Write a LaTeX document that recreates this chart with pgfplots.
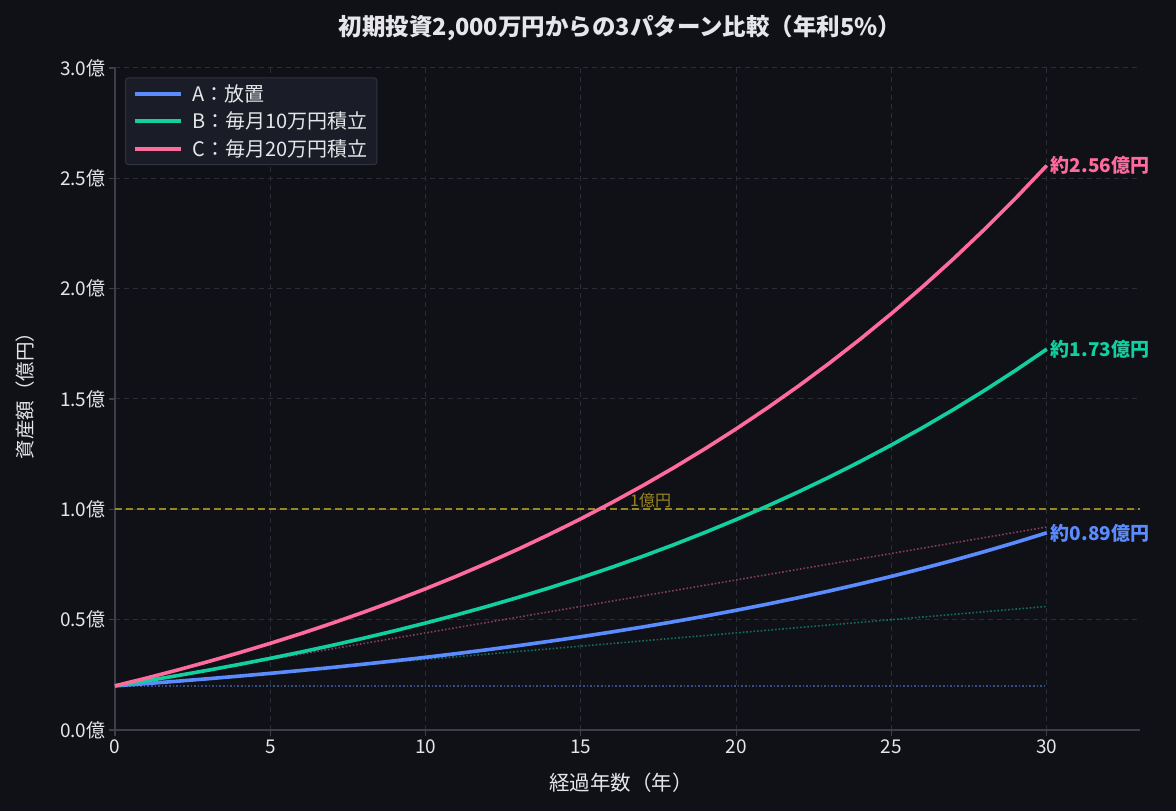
\documentclass[border=0pt]{standalone}
\usepackage{fontspec}
\setmainfont{Noto Sans CJK JP}
\usepackage{pgfplots}
\pgfplotsset{compat=1.18}
\definecolor{bg}{HTML}{0F1117}
\definecolor{txt}{HTML}{E6E6EA}
\definecolor{spine}{HTML}{3C3F48}
\definecolor{gridc}{HTML}{2A2D35}
\definecolor{legbg}{HTML}{1A1D27}
\definecolor{legbd}{HTML}{30333E}
\definecolor{cA}{HTML}{5B8CFF}
\definecolor{cB}{HTML}{12CFA0}
\definecolor{cC}{HTML}{FF6B9D}
\definecolor{goldc}{HTML}{9A8620}
\begin{document}
\begin{tikzpicture}[x=1pt,y=1pt]
\fill[bg] (0,0) rectangle (1176,811);
\begin{axis}[
  at={(115pt,81pt)}, anchor=south west,
  width=1025pt, height=662pt, scale only axis,
  xmin=0, xmax=33, ymin=0, ymax=3,
  axis x line*=bottom, axis y line*=left,
  axis line style={draw=spine, line width=1.2pt},
  tick align=outside, major tick length=6pt,
  tick style={draw=spine, line width=1.2pt},
  xtick={0,5,10,15,20,25,30},
  ytick={0,0.5,1,1.5,2,2.5,3},
  yticklabels={0.0億,0.5億,1.0億,1.5億,2.0億,2.5億,3.0億},
  ticklabel style={font=\fontsize{19}{22}\selectfont, text=txt},
  /pgf/number format/assume math mode=true,
  grid=major,
  grid style={dashed, dash pattern=on 5pt off 4pt, draw=gridc, line width=1pt},
  legend cell align=left,
  legend style={at={(0.0098,0.986)}, anchor=north west, fill=legbg, draw=legbd,
    line width=1pt, rounded corners=3pt, text=txt,
    font=\fontsize{20}{23}\selectfont, row sep=5pt, inner xsep=7pt, inner ysep=5pt,
    /tikz/every odd column/.append style={column sep=8pt}},
  legend image code/.code={\draw[#1, line width=4pt] (0pt,0pt) -- (46pt,0pt);},
  clip=false,
]
% principal (dotted)
\addplot[forget plot, cA, opacity=0.5, dotted, line width=1.6pt] coordinates {(0,0.2)(30,0.2)};
\addplot[forget plot, cB, opacity=0.5, dotted, line width=1.6pt] coordinates {(0,0.2)(30,0.56)};
\addplot[forget plot, cC, opacity=0.5, dotted, line width=1.6pt] coordinates {(0,0.2)(30,0.92)};
% 1 oku line
\addplot[forget plot, draw=goldc, color=goldc, dash pattern=on 7pt off 4pt, line width=1.8pt] coordinates {(0,1)(33,1)};
\node[anchor=south west, text=goldc, font=\fontsize{16}{18}\selectfont, inner sep=1pt] at (axis cs:16.55,1.0) {1億円};
% main series
\addplot[cA, line width=3.6pt] coordinates {
(0,0.2000)(1,0.2102)(2,0.2210)(3,0.2323)(4,0.2442)(5,0.2567)(6,0.2698)(7,0.2836)(8,0.2981)(9,0.3134)
(10,0.3294)(11,0.3463)(12,0.3640)(13,0.3826)(14,0.4022)(15,0.4227)(16,0.4444)(17,0.4671)(18,0.4910)(19,0.5161)
(20,0.5425)(21,0.5703)(22,0.5995)(23,0.6301)(24,0.6624)(25,0.6963)(26,0.7319)(27,0.7693)(28,0.8087)(29,0.8501)(30,0.8936)};
\addlegendentry{A：放置}
\addplot[cB, line width=3.6pt] coordinates {
(0,0.2000)(1,0.2225)(2,0.2462)(3,0.2710)(4,0.2972)(5,0.3247)(6,0.3536)(7,0.3839)(8,0.4159)(9,0.4494)
(10,0.4847)(11,0.5218)(12,0.5607)(13,0.6017)(14,0.6448)(15,0.6900)(16,0.7376)(17,0.7876)(18,0.8402)(19,0.8955)
(20,0.9536)(21,1.0146)(22,1.0788)(23,1.1463)(24,1.2172)(25,1.2918)(26,1.3701)(27,1.4525)(28,1.5391)(29,1.6301)(30,1.7258)};
\addlegendentry{B：毎月10万円積立}
\addplot[cC, line width=3.6pt] coordinates {
(0,0.2000)(1,0.2348)(2,0.2714)(3,0.3098)(4,0.3502)(5,0.3927)(6,0.4373)(7,0.4843)(8,0.5336)(9,0.5855)
(10,0.6400)(11,0.6973)(12,0.7575)(13,0.8208)(14,0.8874)(15,0.9573)(16,1.0309)(17,1.1081)(18,1.1894)(19,1.2748)
(20,1.3646)(21,1.4590)(22,1.5582)(23,1.6624)(24,1.7721)(25,1.8873)(26,2.0084)(27,2.1357)(28,2.2695)(29,2.4102)(30,2.5581)};
\addlegendentry{C：毎月20万円積立}
\node[anchor=west, text=cC, font=\fontsize{19}{22}\selectfont\bfseries, inner sep=0pt, xshift=4pt] at (axis cs:30,2.5581) {約2.56億円};
\node[anchor=west, text=cB, font=\fontsize{19}{22}\selectfont\bfseries, inner sep=0pt, xshift=4pt] at (axis cs:30,1.7258) {約1.73億円};
\node[anchor=west, text=cA, font=\fontsize{19}{22}\selectfont\bfseries, inner sep=0pt, xshift=4pt] at (axis cs:30,0.8936) {約0.89億円};
\end{axis}
\node[text=txt, font=\fontsize{23.5}{27}\selectfont\bfseries] at (620,783) {初期投資2,000万円からの3パターン比較（年利5\%）};
\node[text=txt, font=\fontsize{20.5}{24}\selectfont] at (621,28) {経過年数（年）};
\node[text=txt, font=\fontsize{19.5}{23}\selectfont, rotate=90] at (25,420) {資産額（億円）};
\end{tikzpicture}
\end{document}
